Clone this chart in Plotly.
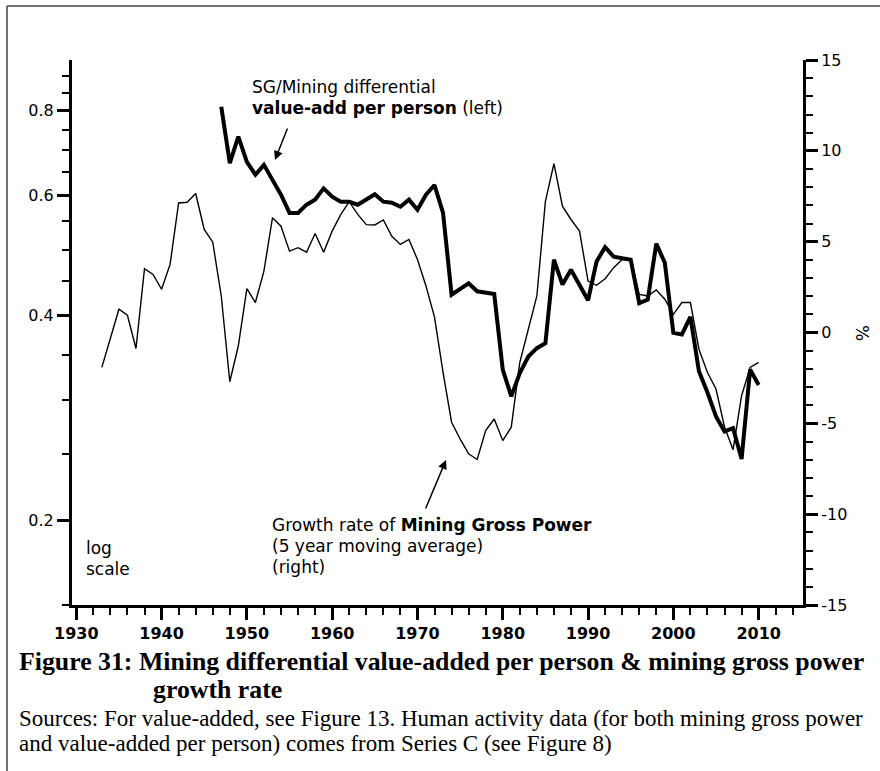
import math
import plotly.graph_objects as go

# ---------------- data ----------------
vpp_years = list(range(1947, 2011))
vpp_values = [0.811, 0.670, 0.733, 0.673, 0.644, 0.666, 0.633, 0.602, 0.566, 0.566,
              0.582, 0.592, 0.615, 0.598, 0.588, 0.588, 0.582, 0.592, 0.603, 0.588,
              0.586, 0.578, 0.592, 0.572, 0.602, 0.622, 0.566, 0.429, 0.437, 0.446,
              0.434, 0.432, 0.430, 0.333, 0.304, 0.329, 0.348, 0.358, 0.364, 0.483,
              0.444, 0.467, 0.443, 0.421, 0.480, 0.504, 0.488, 0.485, 0.483, 0.417,
              0.422, 0.510, 0.478, 0.377, 0.375, 0.398, 0.331, 0.308, 0.284, 0.270,
              0.273, 0.246, 0.333, 0.316]

growth_years = list(range(1933, 2011))
growth_values = [-1.92, -0.27, 1.28, 0.95, -0.88, 3.51, 3.20, 2.38, 3.75, 7.13,
                 7.17, 7.65, 5.67, 4.97, 2.01, -2.71, -0.73, 2.41, 1.65, 3.38,
                 6.31, 5.85, 4.48, 4.67, 4.42, 5.45, 4.42, 5.58, 6.49, 7.20,
                 6.50, 5.94, 5.92, 6.20, 5.30, 4.85, 5.12, 4.02, 2.56, 0.85,
                 -2.20, -4.94, -5.86, -6.68, -6.99, -5.40, -4.76, -5.95, -5.21, -1.65,
                 0.18, 2.01, 7.22, 9.30, 6.95, 6.22, 5.58, 2.83, 2.60, 2.96,
                 3.57, 4.02, 4.02, 2.10, 2.01, 2.34, 1.83, 1.00, 1.65, 1.65,
                 -0.92, -2.20, -3.11, -5.20, -6.45, -3.48, -1.92, -1.65]

x_major = list(range(1930, 2011, 10))
x_minor = list(range(1930, 2016, 2))
left_major = [0.2, 0.4, 0.6, 0.8]
left_major_text = ["0.2", "0.4", "0.6", "0.8"]
left_minor = [round(0.15 + 0.05 * i, 2) for i in range(16)]
right_major = [-15, -10, -5, 0, 5, 10, 15]
right_major_text = ["-15", "-10", "-5", "0", "5", "10", "15"]
right_minor = list(range(-15, 16))

# ---------------- layout helpers ----------------
W, H = 880, 771
L, R, T, B = 72, 803, 60, 605


def px(x):
    return (x - L) / (R - L)


def py(y):
    return (B - y) / (B - T)


FONT = "DejaVu Sans"
SERIF = "Liberation Serif"

fig = go.Figure()
fig.add_trace(go.Scatter(x=growth_years, y=growth_values, yaxis="y2", mode="lines",
                         line=dict(color="black", width=1.4), showlegend=False))
fig.add_trace(go.Scatter(x=vpp_years, y=vpp_values, mode="lines",
                         line=dict(color="black", width=4), showlegend=False))

axis_common = dict(showgrid=False, zeroline=False, showline=True, linecolor="black",
                   linewidth=3, ticks="outside", tickcolor="black", tickwidth=2.5,
                   ticklen=12)

fig.update_layout(
    width=W, height=H,
    margin=dict(l=L, r=W - R, t=T, b=H - B, pad=0),
    paper_bgcolor="white", plot_bgcolor="white",
    xaxis=dict(range=[1929.5, 2015.2], tickmode="array", tickvals=x_major,
               tickfont=dict(family=FONT, size=16, color="black", weight="bold"),
               minor=dict(tickmode="array", tickvals=x_minor, ticks="outside",
                          ticklen=7, tickwidth=2, tickcolor="black"),
               **axis_common),
    yaxis=dict(type="log", range=[math.log10(0.15), math.log10(0.95)],
               tickmode="array", tickvals=left_major, ticktext=left_major_text,
               tickfont=dict(family=FONT, size=16, color="black"),
               minor=dict(tickmode="array", tickvals=left_minor, ticks="outside",
                          ticklen=7, tickwidth=2, tickcolor="black"),
               **axis_common),
    yaxis2=dict(overlaying="y", side="right", range=[-15, 15], tickmode="array",
                tickvals=right_major, ticktext=right_major_text,
                tickfont=dict(family=FONT, size=16, color="black"),
                minor=dict(tickmode="array", tickvals=right_minor, ticks="outside",
                           ticklen=7, tickwidth=2, tickcolor="black"),
                **axis_common),
)

ann = []


def text(x, y, s, size=17, family=FONT, anchor="left"):
    ann.append(dict(xref="paper", yref="paper", x=px(x), y=py(y), text=s,
                    showarrow=False, xanchor=anchor, yanchor="middle",
                    font=dict(family=family, size=size, color="black")))


text(250, 87, "SG/Mining differential")
text(250, 108, "<b>value-add per person</b> (left)")
text(270, 525, "Growth rate of <b>Mining Gross Power</b>")
text(270, 546, "(5 year moving average)")
text(270, 567, "(right)")
text(84, 548, "log")
text(84, 569, "scale")

ann.append(dict(xref="paper", yref="paper", x=px(862), y=py(333), text="%",
                showarrow=False, textangle=90, xanchor="center", yanchor="middle",
                font=dict(family=FONT, size=17, color="black")))

# arrows
for (hx, hy, tx, ty) in [(275, 160, 288, 127), (446, 460, 425, 510)]:
    ann.append(dict(xref="paper", yref="paper", x=px(hx), y=py(hy), text="",
                    showarrow=True, ax=tx - hx, ay=ty - hy, arrowhead=2,
                    arrowsize=1.2, arrowwidth=1.5, arrowcolor="black"))

# caption
text(17, 661, "<b>Figure 31: Mining differential value-added per person &amp; mining gross power</b>",
     size=25.8, family=SERIF)
text(151, 689, "<b>growth rate</b>", size=25.8, family=SERIF)
text(17, 718, "Sources: For value-added, see Figure 13. Human activity data (for both mining gross power",
     size=23, family=SERIF)
text(17, 743, "and value-added per person) comes from Series C (see Figure 8)",
     size=23, family=SERIF)

fig.update_layout(annotations=ann)

# frame lines
fig.add_shape(type="line", xref="paper", yref="paper", x0=px(7), y0=py(6), x1=px(880), y1=py(6),
              line=dict(color="#444", width=1.5))
fig.add_shape(type="line", xref="paper", yref="paper", x0=px(7), y0=py(6), x1=px(7), y1=py(771),
              line=dict(color="#444", width=1.5))

fig.write_html("out.html", config={"displayModeBar": False},
               post_script="document.body.style.margin='0';")
